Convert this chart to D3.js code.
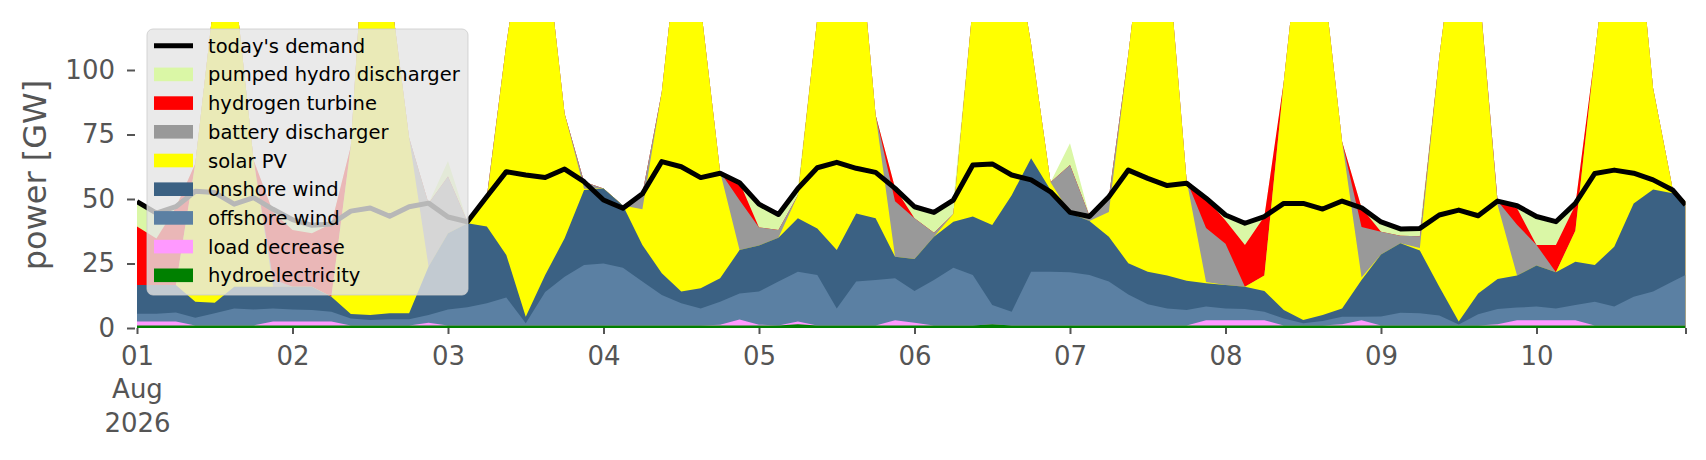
<!DOCTYPE html>
<html>
<head>
<meta charset="utf-8">
<script src="https://cdn.jsdelivr.net/npm/d3@7"></script>
<style>
  body { margin: 0; background: #fff; }
  svg text { font-family: "DejaVu Sans", sans-serif; }
</style>
</head>
<body>
<div id="container"></div>
<script>
/* DATA - 3-hourly samples, in GW (hours from 01 Aug 00:00) */
const hours = [
  0, 3, 6, 9, 12, 15, 18, 21,
  24, 27, 30, 33, 36, 39, 42, 45,
  48, 51, 54, 57, 60, 63, 66, 69,
  72, 75, 78, 81, 84, 87, 90, 93,
  96, 99, 102, 105, 108, 111, 114, 117,
  120, 123, 126, 129, 132, 135, 138, 141,
  144, 147, 150, 153, 156, 159, 162, 165,
  168, 171, 174, 177, 180, 183, 186, 189,
  192, 195, 198, 201, 204, 207, 210, 213,
  216, 219, 222, 225, 228, 231, 234, 237, 239];

const hydroelectricity = [
  1, 1, 1, 1, 1, 1, 1, 1,
  1, 1, 1, 1, 1, 1, 1, 1,
  1, 1, 1, 1, 1, 1, 1, 1,
  1, 1, 1, 1, 1, 1, 1, 1,
  1, 1, 1.5, 1, 1, 1, 1, 1,
  1, 1, 1, 1, 1.5, 1, 1, 1,
  1, 1, 1, 1, 1, 1, 1, 1,
  1, 1, 1, 1, 1, 1, 1, 1,
  1, 1, 1, 1, 1, 1, 1, 1,
  1, 1, 1, 1, 1, 1, 1, 1, 1];

const loadDecrease = [
  1.5, 1.5, 1.5, 0, 0, 0, 0, 1.5,
  1.5, 1.5, 1.5, 0, 0, 0, 0, 1,
  0, 0, 0, 0, 0, 0, 0, 0,
  0, 0, 0, 0, 0, 0, 0.3, 2.3,
  0.3, 0, 1, 0, 0, 0, 0, 2,
  1, 0, 0, 0, 0, 0, 0, 0,
  0, 0, 0, 0, 0, 0, 0, 2,
  2, 2, 2, 0, 0, 0, 0.5, 2,
  0, 0, 0, 0, 0, 0, 0.5, 2,
  2, 2, 2, 0, 0, 0, 0, 0, 0];

const offshoreWind = [
  3, 3, 3.5, 3, 4.7, 6.6, 6.2, 5.1,
  4.7, 4.5, 3.8, 2.7, 2.1, 2.4, 2.4, 3,
  6.2, 7, 8.6, 10.8, 0.8, 13, 18.9, 23.4,
  24, 22.4, 17, 11.8, 8.6, 6.6, 8.9, 10.1,
  12.8, 17, 19.3, 19.5, 6.6, 17, 17.6, 16.3,
  12.3, 17.6, 22.4, 19.5, 7.4, 5.3, 20.8, 20.8,
  20.6, 19.5, 17, 12, 8.2, 6.6, 6, 5.3,
  4.6, 4.4, 3.3, 2.7, 0.8, 1.7, 2.9, 1.4,
  3.5, 4.9, 4.7, 3.8, 0.4, 4.3, 5.9, 4.9,
  5.3, 4.6, 5.9, 9.2, 7.3, 11.1, 13.1, 17, 19.5];

const onshoreWind = [
  11.2, 11.2, 10.7, 6.2, 4.1, 8.4, 8.8, 8.4,
  8.8, 9, 5.8, 1.7, 1.9, 2.3, 2.3, 18.8,
  29.5, 32.6, 29.7, 16.5, 2.6, 6.5, 14.9, 29.1,
  29.1, 24.1, 14.2, 8.4, 4.5, 7.8, 9.1, 16.8,
  17.9, 17, 20.7, 18.1, 22.6, 26.4, 23.9, 8.3,
  12.4, 16.8, 17.8, 22.7, 31, 45.2, 44, 31.7,
  22.9, 21, 17.4, 12.1, 12.6, 12.7, 11.3, 9,
  9.1, 8.6, 8, 3.3, 1.3, 2.3, 3.2, 14.2,
  24, 26.9, 24.3, 11.2, 1.1, 8.1, 11.6, 12.4,
  15.9, 14, 16.8, 14.2, 23.2, 36.2, 39.6, 34.2, 28.5];

const solarPV = [
  0, 0, 0, 53.6, 120, 119, 49, 0,
  0, 0, 0, 65, 185, 127, 68, 0,
  0, 0, 10.7, 81.7, 155.6, 129.5, 48.2, 0.5,
  0, 0, 13.8, 70.4, 146, 109.6, 41.3, 0,
  0, 0, 9, 81.4, 139.8, 120.6, 40.1, 0,
  0, 0, 3, 81.8, 125.1, 103.5, 44.2, 3,
  0, 0, 9.6, 80.9, 147.2, 127.4, 39, 0.5,
  0, 0, 6, 88.5, 161.9, 133.6, 64.6, 1,
  0, 0, 1, 89, 161.5, 123, 28.7, 0,
  0, 0, 12, 81.4, 138.5, 121.7, 39.2, 2, 0];

const batteryDischarger = [
  0, 0, 0, 0, 0, 0, 0, 3,
  0, 0, 0, 0, 0, 0, 0, 24.5,
  22, 0.6, 1, 0, 0, 0, 0, 2.7,
  0, 0, 6, 0, 0, 0, 0, 19.3,
  7, 3, 0, 0, 0, 0, 0, 21.5,
  15.8, 1.5, 0, 0, 0, 0, 0, 0,
  18.7, 2, 5.8, 0, 0, 0, 0, 21,
  16, 0, 0, 0, 0, 0, 0, 19.5,
  8.8, 3, 4.6, 0, 0, 0, 1.5, 19.7,
  8, 0, 0, 0, 0, 0, 0, 0, 0];

const hydrogenTurbine = [
  22.6, 18, 30, 0, 0, 0, 0, 26,
  22, 20.7, 28.3, 0, 0, 0, 0, 0,
  0, 0, 0, 0, 0, 0, 0, 0,
  0, 0, 0, 0, 0, 0, 0, 7,
  0, 0, 0, 0, 0, 0, 0, 5.2,
  0, 0, 0, 0, 0, 0, 0, 0,
  0, 0, 0, 0, 0, 0, 0, 11.5,
  9, 16.2, 22.9, 0, 0, 0, 0, 7.5,
  0, 0, 0, 0, 0, 0, 0, 6.4,
  0, 10.6, 10, 0, 0, 0, 0, 0, 0];

const pumpedHydro = [
  9.5, 9.3, 0.5, 0, 0, 0, 0, 0,
  3.5, 3, 0, 0, 0, 0, 0, 0,
  6, 0, 0, 0, 0, 0, 0, 0,
  0, 0, 0, 0, 0, 0, 0, 0,
  8.5, 6, 2.6, 0, 0, 0, 0, 0,
  4.5, 7.5, 5, 0, 0, 0, 0, 0,
  8.4, 0, 0, 0, 0, 0, 0, 0,
  2, 8.4, 0, 0, 0, 0, 0, 0,
  3.8, 2.6, 3, 0, 0, 0, 0, 1,
  11, 9, 0, 0, 0, 0, 0, 0, 0];

const demand = [
  49, 44.5, 47, 53, 52.5, 48, 50.5, 46,
  42, 39.8, 40.3, 45.3, 46.5, 43.3, 47, 48.4,
  43, 41.2, 51, 60.6, 59.3, 58.3, 61.6, 56.7,
  49.6, 46.4, 52, 64.5, 62.5, 58.3, 60, 56.3,
  48, 44, 54.1, 62.1, 64.2, 61.9, 60.3, 54.1,
  47, 44.8, 49.6, 63.2, 63.6, 59.3, 57.4, 52.8,
  44.8, 43.2, 50.9, 61.2, 58, 55.2, 56.1, 50.3,
  43.8, 40.6, 43.2, 48.3, 48.3, 46.1, 49.2, 46.6,
  41.1, 38.4, 38.6, 43.8, 45.7, 43.5, 49.2, 47.4,
  43.2, 41.2, 48.3, 59.9, 61.2, 60, 57.4, 53.5, 47.7];

// stack order, bottom to top
const seriesKeys = ["hydroelectricity", "load decrease", "offshore wind", "onshore wind",
  "solar PV", "battery discharger", "hydrogen turbine", "pumped hydro discharger"];
const seriesValues = [hydroelectricity, loadDecrease, offshoreWind, onshoreWind,
  solarPV, batteryDischarger, hydrogenTurbine, pumpedHydro];
const seriesColors = ["#008000", "#ff99ff", "#5b80a3", "#3b6183",
  "#ffff00", "#999999", "#ff0000", "#daf7a6"];

const yTicks = [0, 25, 50, 75, 100];
const yMax = 118.6;
const demandLabel = "today's demand";
const yLabel = "power [GW]";

/* CONSTANTS AND GLOBALS */
const width = 1706,
  height = 460,
  margin = { top: 22, bottom: 132, left: 137, right: 20.5 };

const start = new Date(2026, 7, 1, 0);
const toDate = h => d3.timeHour.offset(start, h);

// table for d3.stack
const table = hours.map((h, i) => {
  const row = { date: toDate(h) };
  seriesKeys.forEach((k, j) => row[k] = seriesValues[j][i]);
  return row;
});

/* SCALES */
const xScale = d3.scaleTime()
  .domain([toDate(hours[0]), toDate(hours[hours.length - 1])])
  .range([margin.left, width - margin.right]);

const yScale = d3.scaleLinear()
  .domain([0, yMax])
  .range([height - margin.bottom, margin.top]);

/* SVG */
const svg = d3.select("#container")
  .append("svg")
  .attr("width", width)
  .attr("height", height)
  .style("background", "#fff");

svg.append("clipPath")
  .attr("id", "plot-clip")
  .append("rect")
  .attr("x", margin.left)
  .attr("y", margin.top)
  .attr("width", width - margin.left - margin.right)
  .attr("height", height - margin.top - margin.bottom);

const plot = svg.append("g").attr("clip-path", "url(#plot-clip)");

// STACKED AREAS
// each layer is filled from the baseline up to its stacked top and painted
// top layer first, so the layers below cover it (no hairline seams)
const stacked = d3.stack().keys(seriesKeys)(table);

const areaGen = d3.area()
  .x(d => xScale(d.data.date))
  .y0(yScale(0))
  .y1(d => yScale(d[1]));

plot.selectAll(".layer")
  .data(stacked.slice().reverse())
  .join("path")
  .attr("class", "layer")
  .attr("d", areaGen)
  .attr("fill", d => seriesColors[d.index]);

// DEMAND LINE
const lineGen = d3.line()
  .x((d, i) => xScale(toDate(hours[i])))
  .y(d => yScale(d));

plot.append("path")
  .datum(demand)
  .attr("d", lineGen)
  .attr("fill", "none")
  .attr("stroke", "black")
  .attr("stroke-width", 5)
  .attr("stroke-linejoin", "round");

/* AXES */
const yAxis = d3.axisLeft(yScale)
  .tickValues(yTicks)
  .tickSize(8)
  .tickPadding(12);

const yG = svg.append("g")
  .attr("transform", `translate(135,0)`)
  .call(yAxis);
yG.select(".domain").remove();
yG.selectAll("line").attr("stroke", "#555").attr("stroke-width", 2);
yG.selectAll("text")
  .attr("fill", "#555")
  .attr("font-size", 26)
  .attr("font-family", "DejaVu Sans");

const dayDates = d3.timeDay.range(start, toDate(240));
const xAxis = d3.axisBottom(xScale)
  .tickValues(dayDates.concat([toDate(hours[hours.length - 1])]))
  .tickSize(6)
  .tickPadding(13)
  .tickFormat(d => d.getHours() === 0 ? d3.timeFormat("%d")(d) : "");

const xG = svg.append("g")
  .attr("transform", `translate(0,${height - margin.bottom})`)
  .call(xAxis);
xG.select(".domain").remove();
xG.selectAll("line").attr("stroke", "#555").attr("stroke-width", 2);
xG.selectAll("text")
  .attr("fill", "#555")
  .attr("font-size", 26)
  .attr("font-family", "DejaVu Sans")
  .filter((d, i) => i === 0)
  .each(function () {
    const t = d3.select(this);
    t.append("tspan").attr("x", 0).attr("dy", "1.27em").text("Aug");
    t.append("tspan").attr("x", 0).attr("dy", "1.27em").text("2026");
  });

// Y label
svg.append("text")
  .attr("transform", `translate(46,${(margin.top + height - margin.bottom) / 2}) rotate(-90)`)
  .attr("text-anchor", "middle")
  .attr("fill", "#555")
  .attr("font-size", 32)
  .text(yLabel);

/* LEGEND */
const legend = svg.append("g").attr("class", "legend");

legend.append("rect")
  .attr("x", 147)
  .attr("y", 29)
  .attr("width", 321)
  .attr("height", 266)
  .attr("rx", 6)
  .attr("fill", "#e5e5e5")
  .attr("fill-opacity", 0.8)
  .attr("stroke", "#cccccc")
  .attr("stroke-opacity", 0.8);

const legendItems = [{ label: demandLabel, color: "black", line: true }]
  .concat(seriesKeys.map((k, i) => ({ label: k, color: seriesColors[i], line: false })).reverse());

const rowH = 28.7, row0 = 45.7;

const items = legend.selectAll(".item")
  .data(legendItems)
  .join("g")
  .attr("class", "item")
  .attr("transform", (d, i) => `translate(0,${row0 + i * rowH})`);

items.filter(d => d.line)
  .append("line")
  .attr("x1", 154).attr("x2", 193)
  .attr("y1", 0).attr("y2", 0)
  .attr("stroke", d => d.color)
  .attr("stroke-width", 5);

items.filter(d => !d.line)
  .append("rect")
  .attr("x", 154).attr("y", -6.8)
  .attr("width", 39).attr("height", 13.6)
  .attr("fill", d => d.color);

items.append("text")
  .attr("x", 208)
  .attr("y", 7)
  .attr("font-size", 19.5)
  .attr("fill", "black")
  .text(d => d.label);
</script>
</body>
</html>
